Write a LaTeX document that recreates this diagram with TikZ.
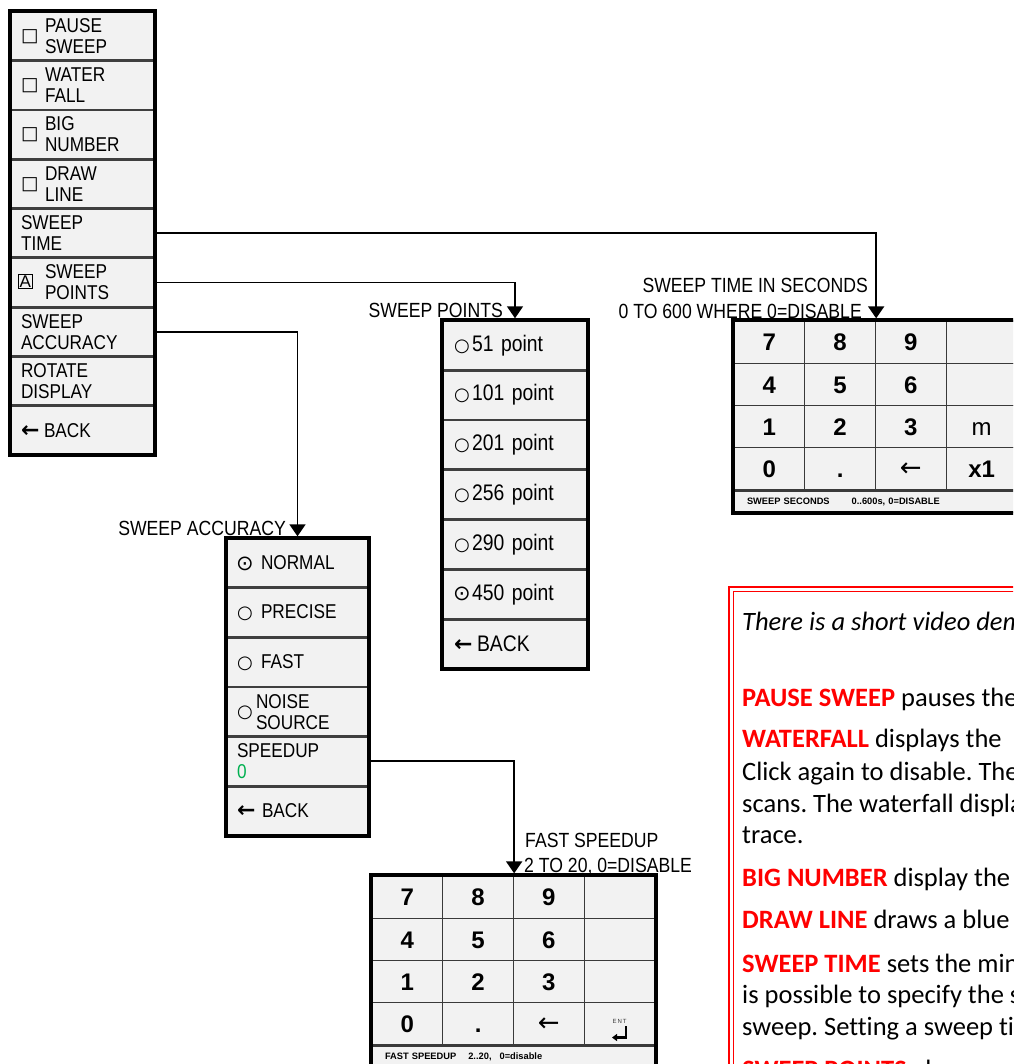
\documentclass[tikz,border=0pt]{standalone}
\usepackage{fontspec}
\setmainfont{Liberation Sans}
\newfontfamily\narrowfont[FakeStretch=0.86]{Liberation Sans}
\newfontfamily\symfont{DejaVu Sans}
\newfontfamily\notefont[Ligatures=NoCommon]{Carlito}
\usetikzlibrary{arrows.meta,positioning}
\frenchspacing

\definecolor{cellgray}{HTML}{F2F2F2}
\definecolor{rowline}{HTML}{3F3F3F}
\definecolor{keyline}{HTML}{3A3A3A}
\definecolor{notered}{HTML}{FF0000}
\definecolor{speedgreen}{HTML}{00B050}

\newcommand{\twoline}[2]{\raisebox{-2.5pt}[\height][\depth]{\begin{tabular}{@{}l@{}}#1\\#2\end{tabular}}}
\newcommand{\chkbox}{{\symfont\fontsize{18.5}{18}\selectfont □}}
\newcommand{\radiooff}{{\symfont\fontsize{18}{18}\selectfont ○}}
\newcommand{\radioon}{\raisebox{-0.8pt}{\symfont\fontsize{21}{18}\selectfont ⊙}}
\newcommand{\backarrow}{{\symfont\bfseries\fontsize{22}{18}\selectfont ←}}
\newcommand{\keyarrow}{\raisebox{1.5pt}{\symfont\mdseries\fontsize{26}{22}\selectfont ←}}
\newcommand{\autobox}{{\setlength{\fboxsep}{0.6pt}\setlength{\fboxrule}{1.1pt}\fbox{\rmfamily\fontsize{17}{17}\selectfont A}}}
\newcommand{\redterm}[1]{{\bfseries\color{notered}#1}}

\begin{document}
\begin{tikzpicture}[x=1pt, y=-1pt,
    rowbox/.style={draw=rowline, fill=cellgray, line width=1.4pt, inner ysep=0pt, align=left, font=\narrowfont\fontsize{20}{21}\selectfont},
    mcell/.style={rowbox, minimum width=143pt, minimum height=47.9pt, text width=123pt, inner xsep=10pt},
    pcell/.style={rowbox, minimum width=144pt, minimum height=48.43pt, text width=122pt, inner xsep=11pt, font=\narrowfont\fontsize{22.5}{23}\selectfont},
    acell/.style={rowbox, minimum width=141pt, minimum height=48.17pt, text width=121pt, inner xsep=10pt},
    key/.style={draw=keyline, fill=cellgray, line width=1.3pt, minimum width=70.75pt, minimum height=42.25pt, inner sep=0pt, text height=17.5pt, text depth=0pt, font=\fontsize{24}{24}\selectfont\bfseries},
    kstat/.style={draw=keyline, fill=cellgray, line width=1.3pt, minimum width=283pt, minimum height=21pt, text width=257pt, inner xsep=13pt, inner ysep=0pt, align=left, anchor=north west, font=\fontsize{9.3}{10}\selectfont\bfseries},
    boxframe/.style={draw=black, line width=4pt},
    lab/.style={inner sep=0pt, font=\narrowfont\fontsize{20.5}{24}\selectfont},
    note/.style={anchor=base west, inner sep=0pt, font=\notefont\fontsize{26.5}{32}\selectfont},
    link/.style={line width=1.8pt, shorten >=2pt, -{Triangle[width=16pt,length=12pt]}}]
    \useasboundingbox (0,0) rectangle (1013,1064);
    \clip (0,0) rectangle (1013,1064);

    % main menu
    \node[mcell] (pause) at (82.5,36) {\makebox[24pt][l]{\chkbox}\twoline{PAUSE}{SWEEP}};
    \node[mcell, below=0pt of pause] (water) {\makebox[24pt][l]{\chkbox}\twoline{WATER}{FALL}};
    \node[mcell, below=0pt of water] (bignum) {\makebox[24pt][l]{\chkbox}\twoline{BIG}{NUMBER}};
    \node[mcell, below=0pt of bignum] (drawln) {\makebox[24pt][l]{\chkbox}\twoline{DRAW}{LINE}};
    \node[mcell, below=0pt of drawln] (stime) {\twoline{SWEEP}{TIME}};
    \node[mcell, below=0pt of stime] (spts) {\makebox[24pt][l]{\hspace*{-3pt}\autobox}\twoline{SWEEP}{POINTS}};
    \node[mcell, below=0pt of spts] (sacc) {\twoline{SWEEP}{ACCURACY}};
    \node[mcell, below=0pt of sacc] (rotate) {\twoline{ROTATE}{DISPLAY}};
    \node[mcell, below=0pt of rotate] (mback) {\makebox[23pt][l]{\backarrow}BACK};
    \draw[boxframe] (pause.north west) rectangle (mback.south east);

    % sweep points list
    \node[pcell] (p1) at (515,345.2) {\makebox[18pt][l]{\radiooff}51 point};
    \node[pcell, below=0pt of p1] (p2) {\makebox[18pt][l]{\radiooff}101 point};
    \node[pcell, below=0pt of p2] (p3) {\makebox[18pt][l]{\radiooff}201 point};
    \node[pcell, below=0pt of p3] (p4) {\makebox[18pt][l]{\radiooff}256 point};
    \node[pcell, below=0pt of p4] (p5) {\makebox[18pt][l]{\radiooff}290 point};
    \node[pcell, below=0pt of p5] (p6) {\makebox[18pt][l]{\hspace*{-1pt}\radioon}450 point};
    \node[pcell, below=0pt of p6] (p7) {\makebox[23pt][l]{\backarrow}BACK};
    \draw[boxframe] (p1.north west) rectangle (p7.south east);

    % sweep accuracy list
    \node[acell] (a1) at (297.5,563.1) {\makebox[24pt][l]{\hspace*{-1pt}\radioon}NORMAL};
    \node[acell, below=0pt of a1] (a2) {\makebox[24pt][l]{\radiooff}PRECISE};
    \node[acell, below=0pt of a2] (a3) {\makebox[24pt][l]{\radiooff}FAST};
    \node[acell, below=0pt of a3] (a4) {\makebox[19pt][l]{\radiooff}\twoline{NOISE}{SOURCE}};
    \node[acell, below=0pt of a4] (speed) {\twoline{SPEEDUP}{\color{speedgreen}0}};
    \node[acell, below=0pt of speed] (a6) {\makebox[25pt][l]{\backarrow}BACK};
    \draw[boxframe] (a1.north west) rectangle (a6.south east);

    % sweep time keypad
    \foreach \lab [count=\i from 0] in {7,8,9,{},4,5,6,{},1,2,3,{\mdseries m},0,{.},\keyarrow,x1} {
        \pgfmathsetmacro\kx{734+70.75*(mod(\i,4)+0.5)}
        \pgfmathsetmacro\ky{321+42.25*(int(\i/4)+0.5)}
        \node[key] (tk\i) at (\kx,\ky) {\lab};
    }
    \node[kstat] (tstat) at (tk12.south west) {SWEEP SECONDS\hspace{22pt}0..600s, 0=DISABLE};
    \draw[boxframe] (tk0.north west) rectangle (tstat.south east);

    % fast speedup keypad
    \foreach \lab [count=\i from 0] in {7,8,9,{},4,5,6,{},1,2,3,{},0,{.},\keyarrow,{}} {
        \pgfmathsetmacro\kx{372+70.75*(mod(\i,4)+0.5)}
        \pgfmathsetmacro\ky{876+42.25*(int(\i/4)+0.5)}
        \node[key] (fk\i) at (\kx,\ky) {\lab};
    }
    \node[kstat] (fstat) at (fk12.south west) {FAST SPEEDUP\hspace{12pt}2..20,\hspace{8pt}0=disable};
    \draw[boxframe] (fk0.north west) rectangle (fstat.south east);
    % enter symbol
    \node[inner sep=0pt, text=keyline, font=\fontsize{6}{6}\selectfont] (ent) at (619.5,1021) {E\,N\,T};
    \draw[line width=2.4pt, -{Triangle[width=7pt,length=5pt]}] (626,1026) -- (626,1037.5) -- (612,1037.5);

    % connectors
    \draw[link] (stime.east) -| (tk1.north east);
    \draw[link] (spts.east) -| (p1.north);
    \draw[link] (sacc.east) -| (a1.north);
    \draw[link] (speed.east) -| (fk1.north east);

    % labels
    \node[lab, anchor=base east] (lpts) at (503,317) {SWEEP POINTS};
    \node[lab, anchor=base east] (ltime1) at (868,292) {SWEEP TIME IN SECONDS};
    \node[lab, anchor=base east] (ltime2) at (862,318) {0 TO 600 WHERE 0=DISABLE};
    \node[lab, anchor=base east] (lacc) at (286,535) {SWEEP ACCURACY};
    \node[lab, anchor=base west] (lfast1) at (525,847) {FAST SPEEDUP};
    \node[lab, anchor=base west] (lfast2) at (524,872) {2 TO 20, 0=DISABLE};

    % note box
    \draw[notered, line width=1.8pt] (729,587) rectangle (1040,1090);
    \draw[notered, line width=0.8pt] (733.5,591.5) rectangle (1040,1090);
    \node[note] (n1) at (742,630) {\itshape There is a short video dem};
    \node[note] (n2) at (742,706) {\redterm{PAUSE SWEEP} pauses the};
    \node[note] (n3) at (742,747) {\redterm{WATERFALL} displays the};
    \node[note] (n4) at (742,780) {Click again to disable. The};
    \node[note] (n5) at (742,812) {scans. The waterfall displa};
    \node[note] (n6) at (742,843) {trace.};
    \node[note] (n7) at (742,886) {\redterm{BIG NUMBER} display the};
    \node[note] (n8) at (742,928) {\redterm{DRAW LINE} draws a blue};
    \node[note] (n9) at (742,972) {\redterm{SWEEP TIME} sets the mini};
    \node[note] (n10) at (742,1003) {is possible to specify the s};
    \node[note] (n11) at (742,1035) {sweep. Setting a sweep ti};
    \node[note] (n12) at (742,1078) {\redterm{SWEEP POINTS} al};
\end{tikzpicture}
\end{document}
